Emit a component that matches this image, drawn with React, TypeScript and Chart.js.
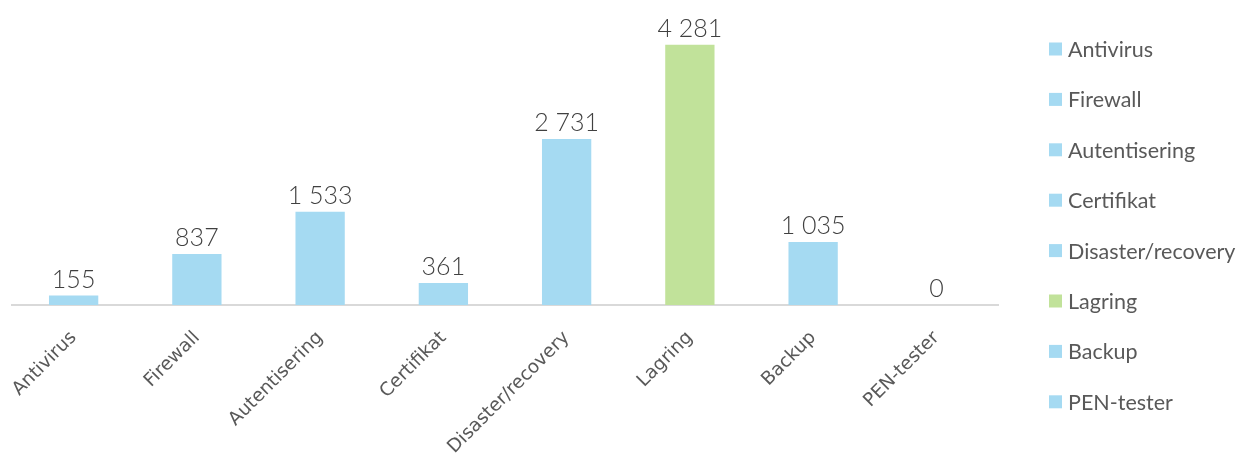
import React, { useEffect, useRef } from 'react';
import { Chart, registerables } from 'chart.js';

Chart.register(...registerables);

const categories = ['Antivirus', 'Firewall', 'Autentisering', 'Certifikat', 'Disaster/recovery', 'Lagring', 'Backup', 'PEN-tester'];
const values = [155, 837, 1533, 361, 2731, 4281, 1035, 0];
const blue = '#A5DAF2';
const green = '#C1E29A';
const barColors = [blue, blue, blue, blue, blue, green, blue, blue];
const yMax = 5000;

const fmt = (v: number) => String(v).replace(/\B(?=(\d{3})+(?!\d))/g, '\u00A0');

const dataLabelPlugin = {
  id: 'dataLabels',
  afterDatasetsDraw(chart: any) {
    const ctx = chart.ctx;
    const meta = chart.getDatasetMeta(0);
    ctx.save();
    ctx.font = '300 25px Lato';
    ctx.fillStyle = '#404040';
    ctx.textAlign = 'center';
    ctx.textBaseline = 'alphabetic';
    meta.data.forEach((el: any, i: number) => {
      ctx.fillText(fmt(values[i]), el.x, el.y - 8);
    });
    ctx.restore();
  },
};

const legendPlugin = {
  id: 'sideLegend',
  afterDraw(chart: any) {
    const ctx = chart.ctx;
    ctx.save();
    ctx.font = '21.5px Lato';
    ctx.textBaseline = 'middle';
    ctx.textAlign = 'left';
    categories.forEach((c, i) => {
      const cy = 49 + i * 50.4;
      ctx.fillStyle = barColors[i];
      ctx.fillRect(1049, cy - 6.5, 13, 13);
      ctx.fillStyle = '#595959';
      ctx.fillText(c, 1068, cy + 1);
    });
    ctx.restore();
  },
};

export default function App() {
  const ref = useRef<HTMLCanvasElement>(null);
  useEffect(() => {
    document.body.style.margin = '0';
    const chart = new Chart(ref.current as HTMLCanvasElement, {
      type: 'bar',
      data: {
        labels: categories,
        datasets: [
          {
            data: values,
            backgroundColor: barColors,
            borderWidth: 0,
            categoryPercentage: 1,
            barPercentage: 0.4,
          },
        ],
      },
      options: {
        animation: false,
        responsive: false,
        layout: { padding: { left: 12, top: 1, right: 246, bottom: 0 } },
        plugins: { legend: { display: false }, tooltip: { enabled: false } },
        scales: {
          x: {
            grid: { display: false },
            border: { display: true, color: '#D9D9D9', width: 2 },
            ticks: {
              autoSkip: false,
              minRotation: 45,
              maxRotation: 45,
              padding: 14,
              color: '#595959',
              font: { family: 'DejaVu Sans', size: 18.5 },
            },
            afterFit(scale: any) {
              scale.height = 152;
            },
          },
          y: {
            display: false,
            min: 0,
            max: yMax,
          },
        },
      },
      plugins: [dataLabelPlugin, legendPlugin],
    });
    return () => chart.destroy();
  }, []);
  return <canvas ref={ref} width={1244} height={457} />;
}
